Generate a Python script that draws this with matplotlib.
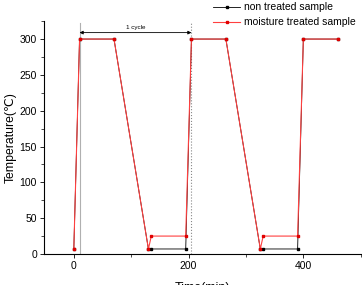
import matplotlib
matplotlib.use("Agg")
import matplotlib.pyplot as plt
from matplotlib.ticker import MultipleLocator

plt.rcParams['font.family'] = ['Liberation Sans', 'DejaVu Sans']

time_non = [0, 10, 70, 130, 135, 195, 205, 265, 325, 330, 390, 400, 460]
temp_non = [7, 300, 300, 7, 7, 7, 300, 300, 7, 7, 7, 300, 300]
time_moist = [0, 10, 70, 130, 135, 195, 205, 265, 325, 330, 390, 400, 460]
temp_moist = [7, 300, 300, 7, 25, 25, 300, 300, 7, 25, 25, 300, 300]
cycle_start, cycle_end = 10, 205
x_ticks = [0, 200, 400]
y_ticks = [0, 50, 100, 150, 200, 250, 300]

fig = plt.figure(figsize=(3.62, 2.85), dpi=100)
ax = fig.add_axes([0.1215, 0.1088, 0.875, 0.817])

ax.plot(time_non, temp_non, color='black', lw=0.6, marker='s', ms=1.6,
        label='non treated sample')
ax.plot(time_moist, temp_moist, color='#ff4040', lw=0.8, marker='s', ms=1.6,
        mfc='#e00000', mec='#e00000', label='moisture treated sample')

ax.axvline(cycle_start, color='#b0b0b0', lw=0.8, ymax=0.99, zorder=0)
ax.axvline(cycle_end, color='#888888', lw=0.8, ls=':', ymax=0.99, zorder=0)
ax.annotate('', xy=(cycle_start, 309), xytext=(cycle_end, 309),
            arrowprops=dict(arrowstyle='<|-|>', color='black', lw=0.6,
                            mutation_scale=5, shrinkA=0, shrinkB=0))
ax.text((cycle_start + cycle_end) / 2, 313, '1 cycle', fontsize=4.5,
        ha='center', va='bottom')

ax.set_xlim(-52, 500)
ax.set_ylim(0, 325)
ax.set_xticks(x_ticks)
ax.set_yticks(y_ticks)
ax.xaxis.set_minor_locator(MultipleLocator(100))
ax.yaxis.set_minor_locator(MultipleLocator(25))
ax.tick_params(which='major', length=3, width=0.6, labelsize=7.5, pad=2)
ax.tick_params(which='minor', length=2, width=0.5)
for s in ['top', 'right']:
    ax.spines[s].set_visible(False)
for s in ['left', 'bottom']:
    ax.spines[s].set_linewidth(0.8)

ax.set_ylabel('Temperature(℃)', fontsize=8.8, labelpad=2)
ax.set_xlabel('Time(min)', fontsize=9, labelpad=8)

fig.legend(loc='upper right', bbox_to_anchor=(1.01, 1.025), frameon=False,
           fontsize=7.5, handlelength=2.6, handletextpad=0.4, labelspacing=0.5)

fig.savefig('out.png', dpi=100)
